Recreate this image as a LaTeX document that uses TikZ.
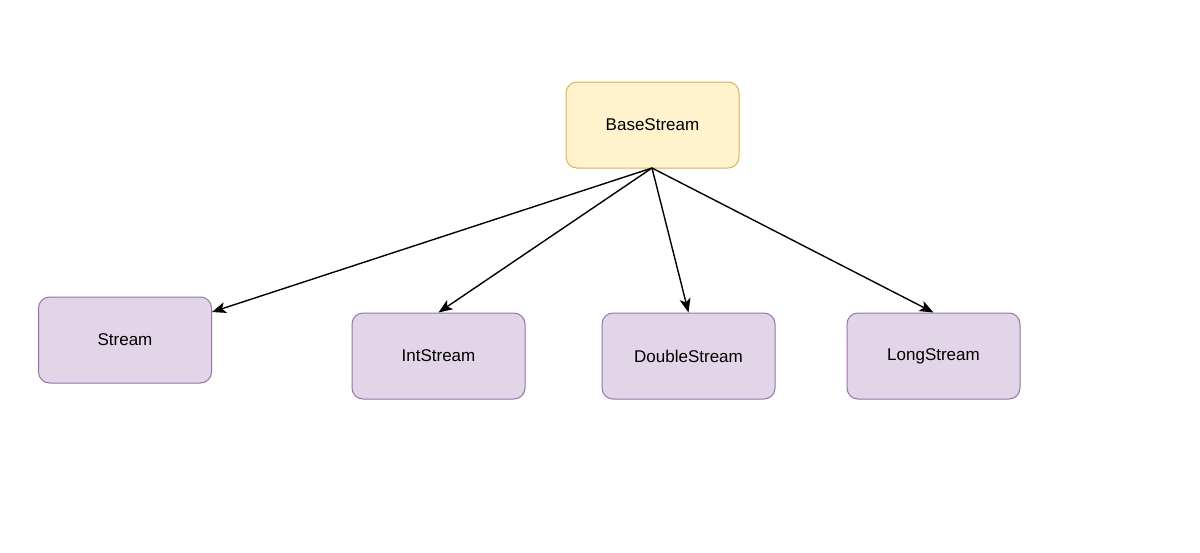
\documentclass[tikz,border=0pt]{standalone}
\usepackage{fontspec}
\setmainfont{Liberation Sans}
\usetikzlibrary{arrows.meta}
\definecolor{ylwfill}{HTML}{FFF2CC}
\definecolor{ylwdraw}{HTML}{D6B656}
\definecolor{purfill}{HTML}{E1D5E7}
\definecolor{purdraw}{HTML}{9673A6}
\tikzset{
  box/.style={draw, rounded corners=11pt, minimum width=173pt, minimum height=86pt, inner sep=0pt, line width=1pt, font=\fontsize{17}{20}\selectfont},
  basebox/.style={box, fill=ylwfill, draw=ylwdraw},
  childbox/.style={box, fill=purfill, draw=purdraw},
  link/.style={line width=1.4pt, -{Stealth[length=14pt, width=11pt, inset=3.5pt]}}
}
\begin{document}
\begin{tikzpicture}[x=1pt, y=-1pt]
\useasboundingbox[fill=white] (0,0) rectangle (1200,552);
\node[basebox] (base) at (652.5,125) {BaseStream};
\node[childbox] (stream) at (125,340) {Stream};
\node[childbox] (int) at (438.5,356) {IntStream};
\node[childbox] (double) at (688.5,356) {DoubleStream};
\node[childbox] (long) at (933.5,356) {LongStream};
\coordinate (src) at (652,168);
\draw[link] (src) -- ([yshift=28pt]stream.east);
\draw[link] (src) -- (int.north);
\draw[link] (src) -- (double.north);
\draw[link] (src) -- (long.north);
\end{tikzpicture}
\end{document}
